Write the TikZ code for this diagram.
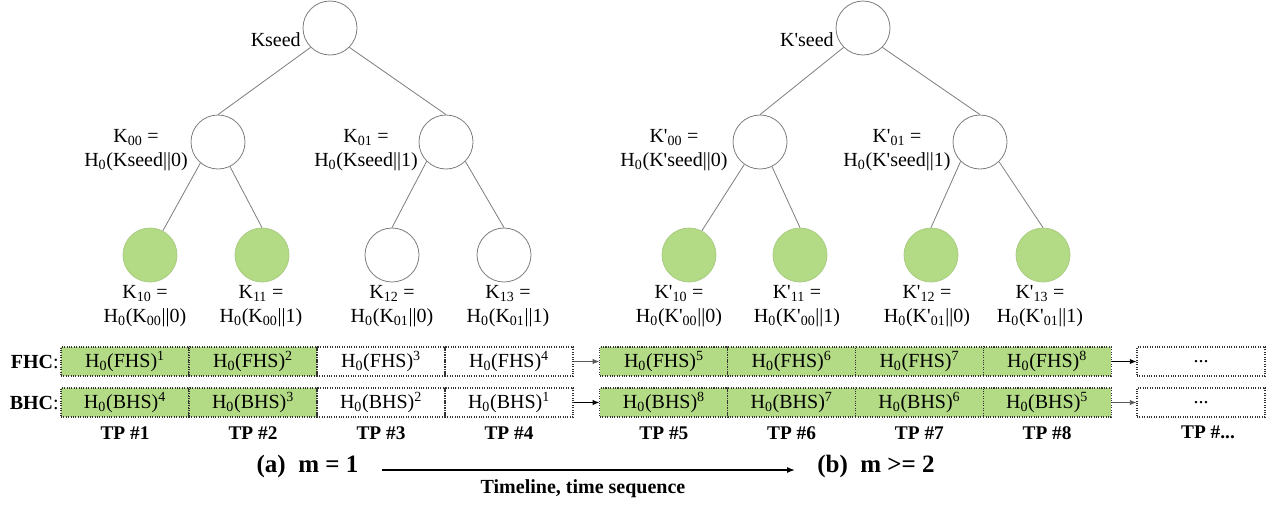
\documentclass[tikz,border=0pt]{standalone}
\usepackage{fontspec}
\setmainfont{Liberation Serif}
\usetikzlibrary{arrows.meta}
\definecolor{leafgreen}{RGB}{179,218,133}
\definecolor{edgegray}{RGB}{125,125,125}
\newcommand{\qt}{\textquotesingle}
\newcommand{\Hz}{H\textsubscript{0}}
\begin{document}
\begin{tikzpicture}[x=0.75pt,y=-0.75pt,
  keynode/.style={circle,draw=edgegray,line width=0.6pt,minimum size=40.5pt,inner sep=0pt},
  keyleaf/.style={keynode,fill=leafgreen,draw=leafgreen!85!gray},
  treeedge/.style={draw=edgegray,line width=0.6pt},
  lbl/.style={font=\fontsize{15}{18}\selectfont,align=center,inner sep=0pt},
  cell/.style={draw=black!80,densely dotted,line width=0.8pt,minimum width=96pt,minimum height=21.75pt,inner sep=0pt,font=\fontsize{15}{18}\selectfont},
  gcell/.style={cell,fill=leafgreen},
  rowlbl/.style={font=\fontsize{15}{18}\selectfont,inner sep=0pt,anchor=east},
  tplbl/.style={font=\fontsize{14.5}{17}\selectfont\bfseries,inner sep=0pt},
  caplbl/.style={font=\fontsize{18.75}{22}\selectfont\bfseries,inner sep=0pt},
  linkarrow/.style={-{Latex[length=5pt,width=4pt]},line width=0.7pt},
]
\useasboundingbox (0,0) rectangle (1278,504);

% ---------- left tree ----------
\node[keynode] (lroot) at (330,28) {};
\node[keynode] (l0) at (218,142) {};
\node[keynode] (l1) at (446,142) {};
\node[keyleaf] (l10) at (150,255) {};
\node[keyleaf] (l11) at (262,255) {};
\node[keynode] (l12) at (392,255) {};
\node[keynode] (l13) at (504,255) {};

\draw[treeedge] (lroot.south west) -- (l0.north);
\draw[treeedge] (lroot.south east) -- (l1.north);
\draw[treeedge] (l0.-130) -- (l10.62);
\draw[treeedge] (l0.-64) -- (l11.north);
\draw[treeedge] (l1.-135) -- (l12.north);
\draw[treeedge] (l1.-45) -- (l13.north);

\node[lbl,anchor=east] (lkseed) at (301,40) {Kseed};
\node[lbl] (lk00) at (136,150) {K\textsubscript{00} =\\\Hz(Kseed||0)};
\node[lbl] (lk01) at (366,150) {K\textsubscript{01} =\\\Hz(Kseed||1)};
\node[lbl] (lk10) at (145,306) {K\textsubscript{10} =\\\Hz(K\textsubscript{00}||0)};
\node[lbl] (lk11) at (261,306) {K\textsubscript{11} =\\\Hz(K\textsubscript{00}||1)};
\node[lbl] (lk12) at (392,306) {K\textsubscript{12} =\\\Hz(K\textsubscript{01}||0)};
\node[lbl] (lk13) at (508,306) {K\textsubscript{13} =\\\Hz(K\textsubscript{01}||1)};

% ---------- right tree ----------
\node[keynode] (rroot) at (863,28) {};
\node[keynode] (r0) at (760,142) {};
\node[keynode] (r1) at (980,142) {};
\node[keyleaf] (r10) at (689,255) {};
\node[keyleaf] (r11) at (800,255) {};
\node[keyleaf] (r12) at (931,255) {};
\node[keyleaf] (r13) at (1043,255) {};

\draw[treeedge] (rroot.south west) -- (r0.north);
\draw[treeedge] (rroot.south east) -- (r1.north);
\draw[treeedge] (r0.-125) -- (r10.62);
\draw[treeedge] (r0.-64) -- (r11.north);
\draw[treeedge] (r1.-135) -- (r12.north);
\draw[treeedge] (r1.-46) -- (r13.north);

\node[lbl,anchor=east] (rkseed) at (834,40) {K\qt seed};
\node[lbl] (rk00) at (674,150) {K\qt\textsubscript{00} =\\\Hz(K\qt seed||0)};
\node[lbl] (rk01) at (897,150) {K\qt\textsubscript{01} =\\\Hz(K\qt seed||1)};
\node[lbl] (rk10) at (679,306) {K\qt\textsubscript{10} =\\\Hz(K\qt\textsubscript{00}||0)};
\node[lbl] (rk11) at (797,306) {K\qt\textsubscript{11} =\\\Hz(K\qt\textsubscript{00}||1)};
\node[lbl] (rk12) at (927,306) {K\qt\textsubscript{12} =\\\Hz(K\qt\textsubscript{01}||0)};
\node[lbl] (rk13) at (1040,306) {K\qt\textsubscript{13} =\\\Hz(K\qt\textsubscript{01}||1)};

% ---------- chains ----------
\node[rowlbl] (fhc) at (59,362) {\textbf{FHC}:};
\node[rowlbl] (bhc) at (59,403) {\textbf{BHC}:};

\node[gcell] (f1) at (125,361.5) {\Hz(FHS)\textsuperscript{1}};
\node[gcell] (f2) at (253,361.5) {\Hz(FHS)\textsuperscript{2}};
\node[cell]  (f3) at (381,361.5) {\Hz(FHS)\textsuperscript{3}};
\node[cell]  (f4) at (509,361.5) {\Hz(FHS)\textsuperscript{4}};
\node[gcell] (f5) at (663.9,361.5) {\Hz(FHS)\textsuperscript{5}};
\node[gcell] (f6) at (791.6,361.5) {\Hz(FHS)\textsuperscript{6}};
\node[gcell] (f7) at (919.4,361.5) {\Hz(FHS)\textsuperscript{7}};
\node[gcell] (f8) at (1047.1,361.5) {\Hz(FHS)\textsuperscript{8}};
\node[cell]  (f9) at (1201,361.5) {...};

\node[gcell] (b1) at (125,402.5) {\Hz(BHS)\textsuperscript{4}};
\node[gcell] (b2) at (253,402.5) {\Hz(BHS)\textsuperscript{3}};
\node[cell]  (b3) at (381,402.5) {\Hz(BHS)\textsuperscript{2}};
\node[cell]  (b4) at (509,402.5) {\Hz(BHS)\textsuperscript{1}};
\node[gcell] (b5) at (663.9,402.5) {\Hz(BHS)\textsuperscript{8}};
\node[gcell] (b6) at (791.6,402.5) {\Hz(BHS)\textsuperscript{7}};
\node[gcell] (b7) at (919.4,402.5) {\Hz(BHS)\textsuperscript{6}};
\node[gcell] (b8) at (1047.1,402.5) {\Hz(BHS)\textsuperscript{5}};
\node[cell]  (b9) at (1201,402.5) {...};

\draw[linkarrow,draw=black!65] (f4.east) -- (f5.west);
\draw[linkarrow] (b4.east) -- (b5.west);
\draw[linkarrow] (f8.east) -- (f9.west);
\draw[linkarrow,draw=black!65] (b8.east) -- (b9.west);

\node[tplbl] (tp1) at (125,433) {TP \#1};
\node[tplbl] (tp2) at (253,433) {TP \#2};
\node[tplbl] (tp3) at (381,433) {TP \#3};
\node[tplbl] (tp4) at (509,433) {TP \#4};
\node[tplbl] (tp5) at (663.9,433) {TP \#5};
\node[tplbl] (tp6) at (791.6,433) {TP \#6};
\node[tplbl] (tp7) at (919.4,433) {TP \#7};
\node[tplbl] (tp8) at (1047.1,433) {TP \#8};
\node[tplbl] (tp9) at (1208,432) {TP \#...};

% ---------- timeline ----------
\node[caplbl] (capa) at (307.5,466) {(a)\ \ m = 1};
\node[caplbl] (capb) at (876,466) {(b)\ \ m >= 2};
\coordinate (tlstart) at (382,470);
\coordinate (tlend) at (795,470);
\draw[-{Latex[length=6pt,width=4.5pt]},line width=0.9pt] (tlstart) -- (tlend);
\node[tplbl,font=\fontsize{15}{18}\selectfont\bfseries] (tltext) at (583,489) {Timeline, time sequence};
\end{tikzpicture}
\end{document}
